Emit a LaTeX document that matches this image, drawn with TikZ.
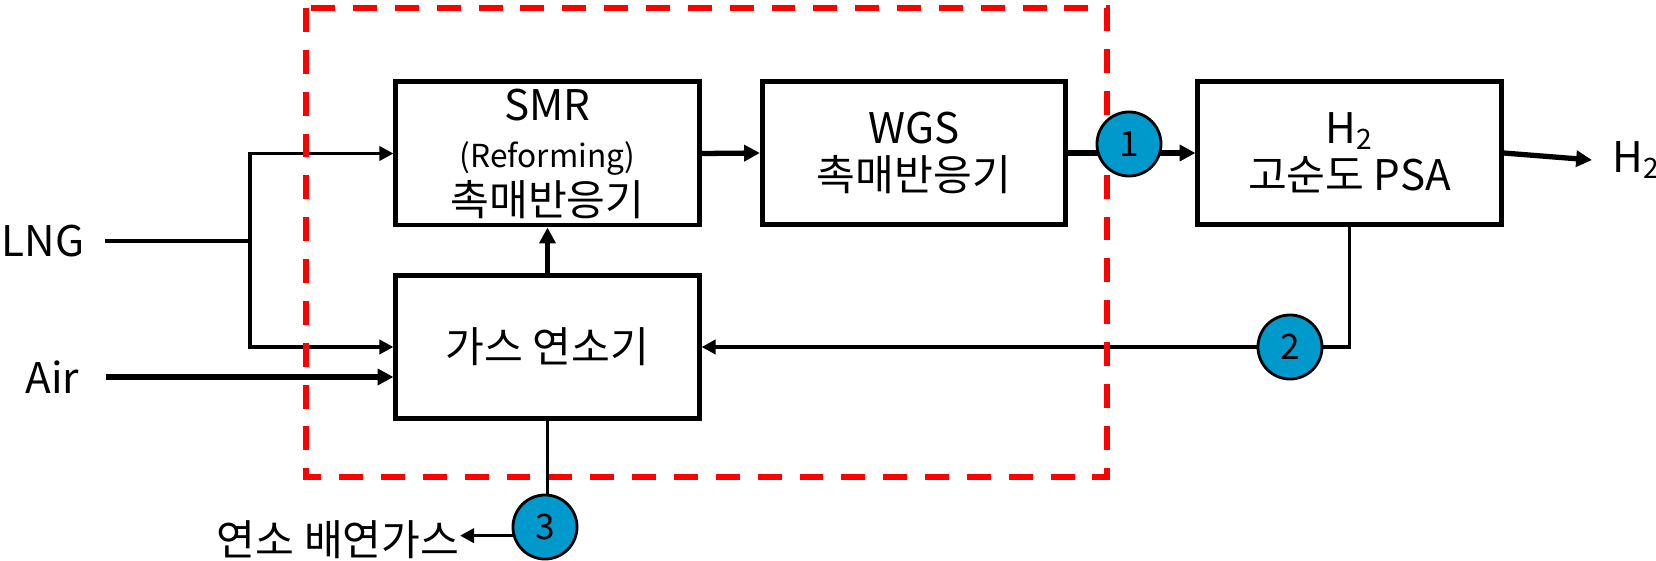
\documentclass[tikz,border=0pt]{standalone}
\usepackage{fontspec}
\setmainfont{Noto Sans CJK KR}
\usetikzlibrary{arrows.meta}
\definecolor{circblue}{RGB}{0,153,204}
\definecolor{framered}{RGB}{255,0,0}

\tikzset{
  unitbox/.style={draw, line width=1.4pt, minimum width=3.03cm, minimum height=1.43cm,
    inner sep=0pt, align=center, font=\fontsize{12}{13.5}\selectfont},
  tagcircle/.style={circle, draw, line width=0.8pt, fill=circblue, minimum size=0.64cm,
    inner sep=0pt, font=\fontsize{10}{12}\selectfont},
  streamtext/.style={inner ysep=0pt, font=\fontsize{12}{13.5}\selectfont},
  thinline/.style={line width=1pt},
  thinflow/.style={line width=1pt, -{Triangle[length=4pt,width=4pt]}},
  thickflow/.style={line width=1.5pt, -{Triangle[length=4.5pt,width=4.5pt]}},
  zone/.style={framered, line width=1.5pt, dash pattern=on 6.8pt off 5.1pt}
}

\begin{document}
\begin{tikzpicture}[x=0.01cm, y=-0.01cm]
  \useasboundingbox (0,0) rectangle (1656,561);

  % Draw the process units
  \node[unitbox] (smr) at (547.5,153.5) {SMR\\{\fontsize{9}{13.5}\selectfont (Reforming)}\\촉매반응기};
  \node[unitbox] (wgs) at (914,153) {WGS\\촉매반응기};
  \node[unitbox] (psa) at (1349.5,153) {H\textsubscript{2}\\고순도 PSA};
  \node[unitbox] (burner) at (547.5,347) {가스 연소기};

  % Draw the feed and product texts
  \node[streamtext, anchor=east, inner xsep=0.2cm] (lng) at (105,241) {LNG};
  \node[streamtext, anchor=east, inner xsep=0.26cm] (air) at (106,377) {Air};
  \node[streamtext, anchor=west, inner xsep=0.2cm] (h2out) at (1592,160) {H\textsubscript{2}};
  \node[streamtext, anchor=east, inner xsep=0pt] (flue) at (460,540) {연소 배연가스};

  % Draw the LNG split
  \coordinate (split) at (250,241);
  \draw[thinline] (lng.east) -- (split);
  \draw[thinflow] (split) |- (smr.west);
  \draw[thinflow] (split) |- (burner.west);

  % Draw the air feed
  \draw[thickflow] (air.east) -- (air.east -| burner.west);

  % Draw the main gas path
  \draw[thickflow] (burner.north) -- (smr.south);
  \draw[thickflow] (smr.east) -- (wgs.west);
  \draw[thickflow] (wgs.east) -- (psa.west);
  \draw[thickflow] (psa.east) -- (h2out.west);

  % Draw the off-gas return
  \draw[thinflow] (psa.south) |- (burner.east);

  % Draw the reformer section frame
  \draw[zone] (306,8) rectangle (1107,477);

  % Draw the stream numbers
  \node[tagcircle] (s1) at (1129,144) {1};
  \node[tagcircle] (s2) at (1290,347) {2};
  \node[tagcircle] (s3) at (545,527) {3};

  % Draw the flue gas line
  \draw[thinline] (burner.south) -- (burner.south |- s3.north);
  \draw[thinflow] (s3.195) -- (s3.195 -| flue.east);
\end{tikzpicture}
\end{document}
